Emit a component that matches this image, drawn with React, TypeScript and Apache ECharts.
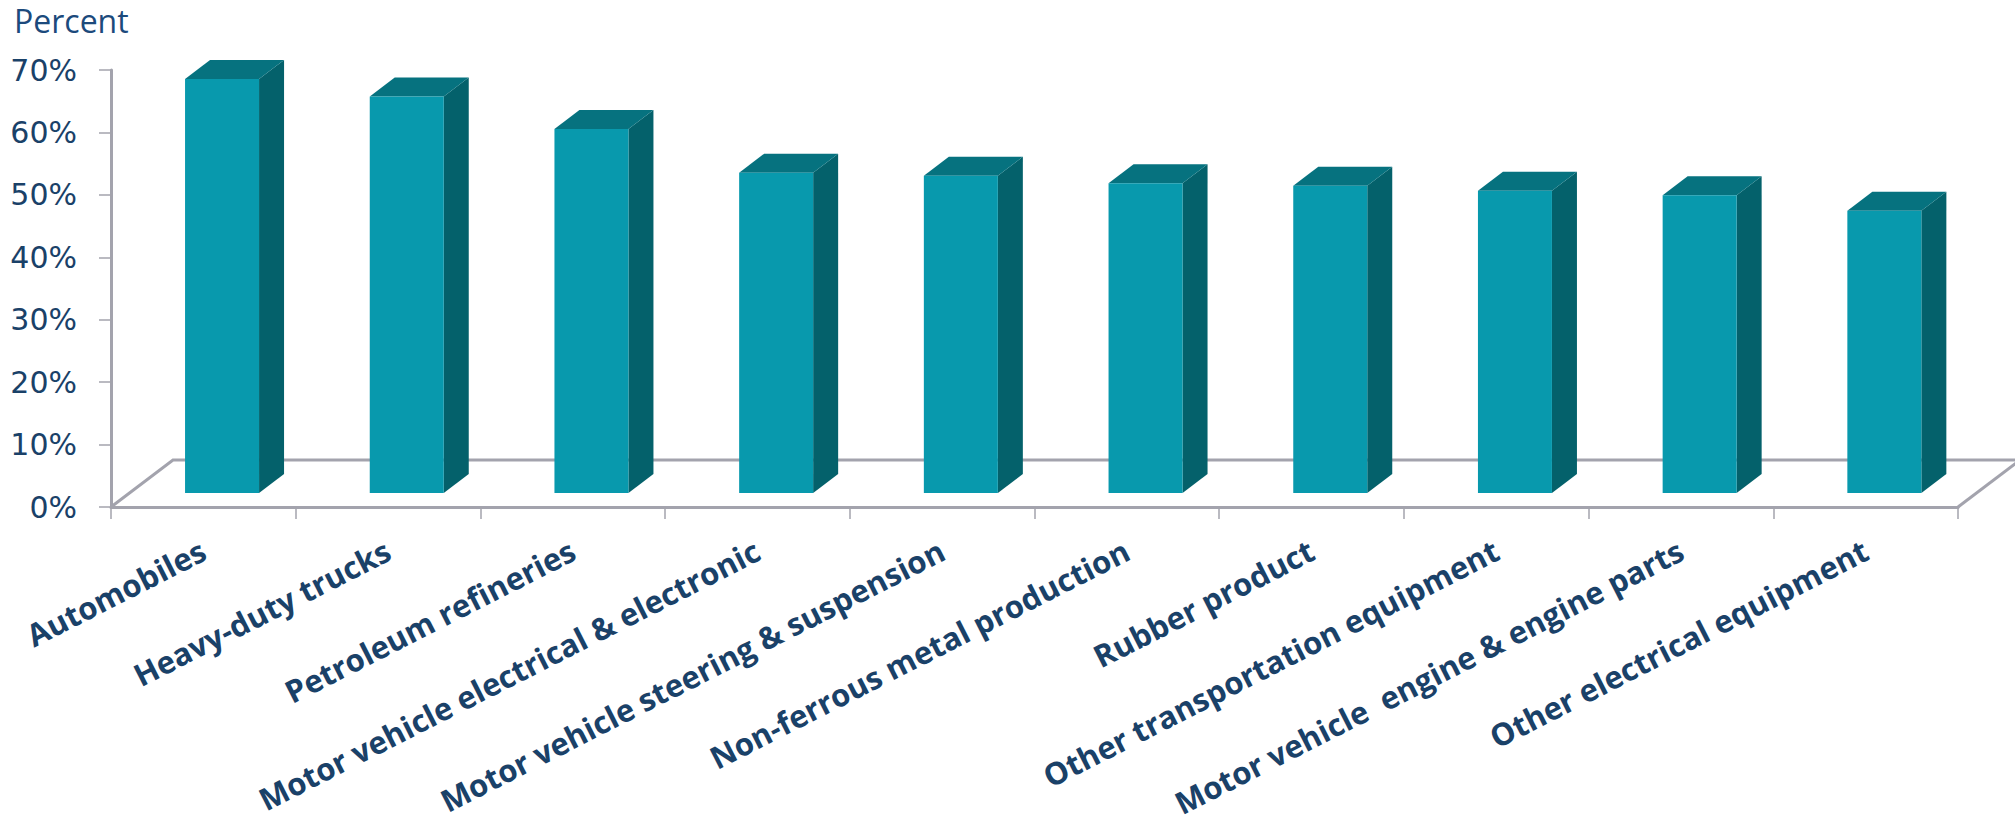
import React, { useEffect, useRef } from "react";
import * as echarts from "echarts";

const categories = [
  "Automobiles",
  "Heavy-duty trucks",
  "Petroleum refineries",
  "Motor vehicle electrical & electronic",
  "Motor vehicle steering & suspension",
  "Non-ferrous metal production",
  "Rubber product",
  "Other transportation equipment",
  "Motor vehicle  engine & engine parts",
  "Other electrical equipment",
];
const values = [66.3, 63.5, 58.3, 51.3, 50.8, 49.6, 49.2, 48.4, 47.7, 45.2];

const TEXT = "#1a4168";
const AXIS = "#a3a3ad";
const FRONT = "#0899ad";
const SIDE = "#04616b";
const TOP = "#06727f";

export default function App() {
  const ref = useRef<HTMLDivElement>(null);
  useEffect(() => {
    const chart = echarts.init(ref.current!, undefined, { renderer: "svg" });
    chart.setOption({
      animation: false,
      backgroundColor: "#ffffff",
      title: {
        text: "Percent",
        left: 9,
        top: -1,
        textStyle: { fontFamily: "Open Sans", fontWeight: "normal", fontSize: 32, color: "#1c4a7c" },
      },
      grid: { left: 111, right: 57, top: 70, bottom: 319, containLabel: false, outerBoundsMode: "none" },
      xAxis: {
        type: "category",
        data: categories,
        boundaryGap: true,
        axisLine: { lineStyle: { color: AXIS, width: 3 } },
        axisTick: { show: true, alignWithLabel: false, length: 12, lineStyle: { color: AXIS, width: 1.5 } },
        axisLabel: {
          interval: 0,
          rotate: 27,
          margin: 41,
          fontFamily: "Open Sans",
          fontWeight: "bold",
          fontSize: 31,
          color: TEXT,
        },
      },
      yAxis: {
        type: "value",
        min: 0,
        max: 70,
        interval: 10,
        axisLine: { show: true, lineStyle: { color: AXIS, width: 3 } },
        axisTick: { show: true, length: 12, lineStyle: { color: AXIS, width: 1.5 } },
        splitLine: { show: false },
        axisLabel: {
          formatter: "{value}%",
          margin: 34,
          fontFamily: "DejaVu Sans",
          fontSize: 30,
          color: TEXT,
        },
      },
      series: [
        {
          type: "custom",
          coordinateSystem: "cartesian2d",
          silent: true,
          z: 1,
          data: [[0, 0]],
          clip: false,
          renderItem: (params: any) => {
            const c = params.coordSys;
            const by = c.y + c.height;
            const x0 = c.x;
            const x1 = c.x + c.width;
            const dx = 62;
            const dy = 47;
            return {
              type: "group",
              children: [
                {
                  type: "polyline",
                  shape: { points: [[x0, by], [x0 + dx, by - dy], [2015, by - dy]] },
                  style: { stroke: AXIS, lineWidth: 3, fill: "none" },
                },
                {
                  type: "line",
                  shape: { x1, y1: by, x2: x1 + 62, y2: by - dy },
                  style: { stroke: AXIS, lineWidth: 3 },
                },
              ],
            };
          },
        },
        {
          type: "custom",
          coordinateSystem: "cartesian2d",
          silent: true,
          z: 2,
          clip: false,
          data: values.map((v, i) => [i, v]),
          encode: { x: 0, y: 1 },
          renderItem: (_: any, api: any) => {
            const top = api.coord([api.value(0), api.value(1)]);
            const base = api.coord([api.value(0), 0]);
            const cx = base[0] + 18.7;
            const w = 74;
            const dx = 25;
            const dy = 19;
            const lift = 14;
            const l = cx - w / 2;
            const r = cx + w / 2;
            const t = top[1] - lift;
            const b = base[1] - lift;
            return {
              type: "group",
              children: [
                {
                  type: "polygon",
                  shape: { points: [[r, t], [r + dx, t - dy], [r + dx, b - dy], [r, b]] },
                  style: { fill: SIDE },
                },
                {
                  type: "polygon",
                  shape: { points: [[l, t], [l + dx, t - dy], [r + dx, t - dy], [r, t]] },
                  style: { fill: TOP },
                },
                {
                  type: "rect",
                  shape: { x: l, y: t, width: w, height: b - t },
                  style: { fill: FRONT },
                },
              ],
            };
          },
        },
      ],
    });
    return () => chart.dispose();
  }, []);
  return (
    <div
      ref={ref}
      style={{ position: "absolute", left: 0, top: 0, width: 2015, height: 826 }}
    />
  );
}
